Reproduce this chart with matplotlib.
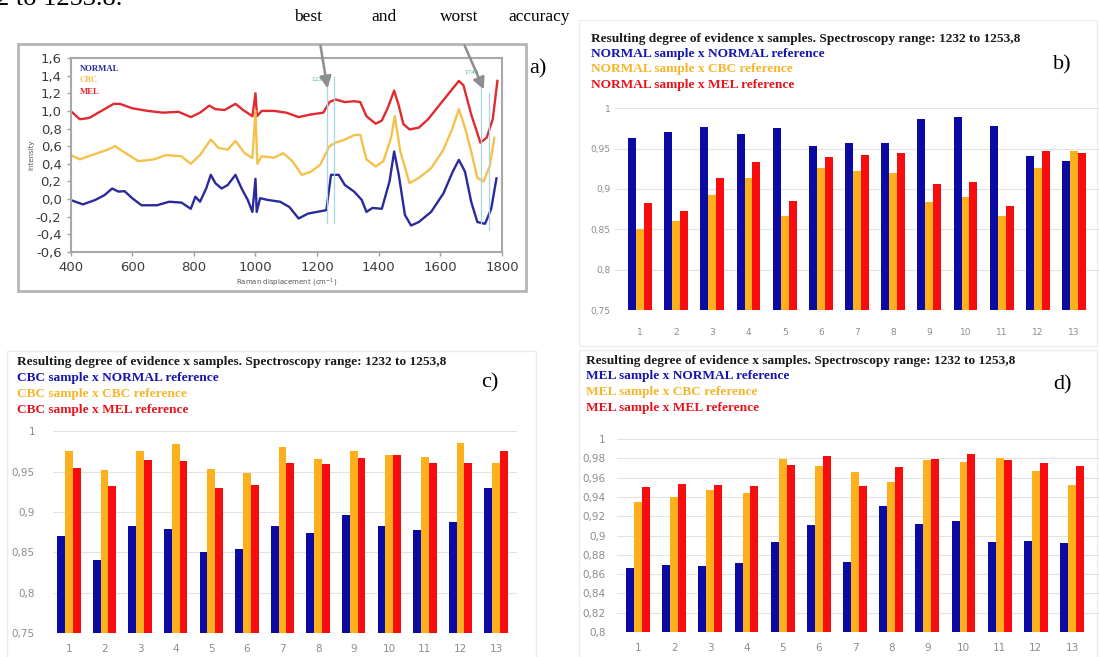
import numpy as np
import matplotlib.pyplot as plt
from matplotlib.patches import Rectangle, FancyArrowPatch

W, H = 1099, 657

# Raman spectra, offset per class
normal_wn = [400, 440, 480, 510, 535, 555, 575, 600, 630, 680, 720, 760, 790, 805, 820, 840,
             855, 870, 890, 910, 935, 955, 975, 990, 1000, 1004, 1015, 1040, 1080, 1110, 1140,
             1170, 1200, 1230, 1245, 1270, 1290, 1320, 1345, 1360, 1380, 1410, 1435, 1450,
             1465, 1485, 1505, 1530, 1570, 1610, 1640, 1660, 1680, 1700, 1720, 1745, 1765, 1782]
normal_int = [-0.01, -0.06, -0.01, 0.045, 0.12, 0.085, 0.09, 0.01, -0.07, -0.07, -0.03, -0.04,
              -0.11, 0.027, -0.03, 0.12, 0.275, 0.18, 0.12, 0.16, 0.275, 0.12, -0.01, -0.145,
              0.23, -0.145, 0.01, -0.01, -0.03, -0.09, -0.22, -0.165, -0.145, -0.125, 0.275,
              0.275, 0.16, 0.085, -0.01, -0.145, -0.10, -0.11, 0.20, 0.54, 0.275, -0.18, -0.30,
              -0.26, -0.145, 0.065, 0.31, 0.445, 0.31, -0.03, -0.26, -0.28, -0.11, 0.235]

cbc_wn = [400, 430, 470, 520, 545, 570, 620, 670, 710, 760, 790, 820, 855, 880, 910, 935,
          965, 990, 1000, 1006, 1020, 1060, 1090, 1120, 1150, 1180, 1210, 1240, 1260, 1290,
          1320, 1340, 1360, 1390, 1415, 1440, 1452, 1470, 1500, 1530, 1570, 1610, 1640, 1660,
          1680, 1700, 1720, 1740, 1760, 1775]
cbc_int = [0.50, 0.45, 0.50, 0.56, 0.60, 0.54, 0.43, 0.45, 0.50, 0.485, 0.40, 0.50, 0.675,
           0.58, 0.56, 0.66, 0.52, 0.465, 1.0, 0.40, 0.485, 0.47, 0.52, 0.43, 0.275, 0.31,
           0.39, 0.60, 0.64, 0.675, 0.725, 0.73, 0.45, 0.37, 0.43, 0.695, 0.94, 0.54, 0.18,
           0.24, 0.35, 0.56, 0.81, 1.02, 0.81, 0.54, 0.24, 0.20, 0.37, 0.695]

mel_wn = [400, 430, 460, 500, 540, 560, 600, 650, 700, 750, 790, 820, 850, 870, 900, 935,
          960, 990, 1000, 1005, 1020, 1060, 1100, 1140, 1180, 1220, 1240, 1260, 1290, 1320,
          1340, 1360, 1390, 1410, 1430, 1450, 1465, 1480, 1500, 1530, 1560, 1600, 1630, 1660,
          1675, 1700, 1730, 1750, 1770, 1785]
mel_int = [1.0, 0.905, 0.92, 1.0, 1.08, 1.08, 1.03, 1.0, 0.98, 0.99, 0.93, 0.98, 1.06, 1.02,
           1.01, 1.08, 1.01, 0.94, 1.2, 0.94, 1.0, 1.0, 0.98, 0.93, 0.96, 0.98, 1.1, 1.13, 1.10,
           1.11, 1.1, 0.94, 0.855, 0.89, 1.04, 1.23, 1.06, 0.85, 0.79, 0.81, 0.905, 1.08, 1.21,
           1.34, 1.29, 0.96, 0.64, 0.695, 0.905, 1.34]

# degree of evidence, samples 1..13
samples = np.arange(1, 14)
b_normal = [0.963, 0.970, 0.977, 0.968, 0.976, 0.953, 0.957, 0.957, 0.987, 0.989, 0.978, 0.941, 0.935]
b_cbc = [0.850, 0.860, 0.893, 0.913, 0.867, 0.926, 0.922, 0.920, 0.884, 0.890, 0.866, 0.926, 0.947]
b_mel = [0.883, 0.873, 0.913, 0.933, 0.885, 0.940, 0.942, 0.944, 0.906, 0.909, 0.879, 0.947, 0.945]

c_normal = [0.870, 0.840, 0.883, 0.879, 0.850, 0.854, 0.882, 0.874, 0.896, 0.883, 0.878, 0.887, 0.930]
c_cbc = [0.976, 0.952, 0.976, 0.984, 0.953, 0.948, 0.980, 0.965, 0.976, 0.970, 0.968, 0.985, 0.961]
c_mel = [0.954, 0.932, 0.964, 0.963, 0.930, 0.933, 0.961, 0.959, 0.967, 0.970, 0.961, 0.961, 0.976]

d_normal = [0.866, 0.869, 0.868, 0.872, 0.893, 0.911, 0.873, 0.931, 0.912, 0.915, 0.893, 0.894, 0.892]
d_cbc = [0.935, 0.940, 0.947, 0.944, 0.979, 0.972, 0.966, 0.956, 0.978, 0.976, 0.980, 0.967, 0.952]
d_mel = [0.950, 0.953, 0.952, 0.951, 0.973, 0.982, 0.951, 0.971, 0.979, 0.985, 0.978, 0.975, 0.972]

BLUE, ORANGE, RED = '#0b0ba4', '#fdb01c', '#f70d0d'
SERIF = 'Liberation Serif'


def fx(px):
    return px / W


def fy(py):
    return 1 - py / H


def px_axes(fig, left, top, right, bottom):
    return fig.add_axes([fx(left), fy(bottom), (right - left) / W, (bottom - top) / H])


def comma(v, fmt):
    return (fmt % v).replace('.', ',')


fig = plt.figure(figsize=(W / 100, H / 100), dpi=100)

# caption line above (only its lower part is on the sheet) and header words
fig.text(fx(-4), fy(5), '2 to 1253.8.', family=SERIF, fontsize=19, ha='left', va='baseline')
for word, xc in [('best', 308), ('and', 384), ('worst', 459), ('accuracy', 539)]:
    fig.text(fx(xc), fy(17), word, family=SERIF, fontsize=12.5, ha='center', va='center')

# ---- a) spectra ----
fig.patches.append(Rectangle((fx(18), fy(291)), (526 - 18) / W, (291 - 44) / H,
                             transform=fig.transFigure, fill=False, ec='#b5b5b5', lw=2))
axa = px_axes(fig, 70.6, 58, 502, 252)
axa.plot(mel_wn, mel_int, color='#e02a30', lw=1.7)
axa.plot(cbc_wn, cbc_int, color='#f4c24c', lw=1.7)
axa.plot(normal_wn, normal_int, color='#2a2a9c', lw=1.7)
for xv, y0, y1 in [(1232, -0.27, 1.39), (1253.8, -0.27, 1.39), (1731, -0.27, 1.35), (1757, -0.35, 1.2)]:
    axa.plot([xv, xv], [y0, y1], color='#a6d6e2', lw=0.9)
axa.text(1226, 1.36, '1232', color='#3cb59a', fontsize=5, family=SERIF, ha='right', va='center')
axa.text(1725, 1.43, '1740', color='#3cb59a', fontsize=5, family=SERIF, ha='right', va='center')
for name, col, yv in [('NORMAL', '#2a2a9c', 1.48), ('CBC', '#f4c24c', 1.35), ('MEL', '#e02a30', 1.22)]:
    axa.text(430, yv, name, color=col, fontsize=6.2, family=SERIF, weight='bold', va='center')
axa.set_xlim(400, 1800)
axa.set_ylim(-0.6, 1.6)
axa.set_xticks(range(400, 1801, 200))
yt = np.round(np.arange(-0.6, 1.61, 0.2), 1)
axa.set_yticks(yt)
axa.set_yticklabels([comma(v, '%.1f') for v in yt])
axa.tick_params(labelsize=9.5, labelcolor='#3c3c3c', color='#a0a0a0', length=3, width=1)
for sp in axa.spines.values():
    sp.set_color('#a8a8a8')
    sp.set_linewidth(1.5)
axa.set_xlabel('Raman displacement (cm$^{-1}$)', fontsize=5, color='#555555', labelpad=2)
axa.set_ylabel('Intensity', fontsize=5, color='#555555', labelpad=1)
fig.text(fx(538), fy(69), 'a)', family=SERIF, fontsize=16, ha='center', va='center')

# ---- arrows ----
for (x0, y0), (x1, y1) in [((320, 43), (328, 91)), ((463.5, 43), (485, 92))]:
    fig.patches.append(FancyArrowPatch((fx(x0), fy(y0)), (fx(x1), fy(y1)), transform=fig.transFigure,
                                       arrowstyle='-|>,head_length=7,head_width=3.5', color='#8e8e8e',
                                       lw=1.8, mutation_scale=1))


def bar_panel(left, top, right, bottom, first_px, last_px, ylo, yhi, ystep, series, xpad, ypad, lsize):
    ax = px_axes(fig, left, top, right, bottom)
    step = (last_px - first_px) / 12
    w = 0.22
    for k, (vals, col) in enumerate(series):
        ax.bar(samples + (k - 1) * w, vals, w, color=col, zorder=2)
    ax.set_xlim(1 - (first_px - left) / step, 13 + (right - last_px) / step)
    ax.set_ylim(ylo, yhi + 0.004 * (yhi - ylo) / 0.25)
    ticks = np.round(np.arange(ylo, yhi + 1e-9, ystep), 2)
    ax.set_yticks(ticks)
    ax.set_yticklabels([comma(v, '%g') for v in ticks])
    ax.set_xticks(samples)
    ax.grid(axis='y', color='#e3e3e3', lw=0.8, zorder=0)
    ax.tick_params(length=0, labelsize=lsize, labelcolor='#8c8c8c')
    ax.tick_params(axis='x', pad=xpad)
    ax.tick_params(axis='y', pad=ypad)
    for sp in ax.spines.values():
        sp.set_visible(False)
    return ax


def panel_text(x, ys, title, lines):
    fig.text(fx(x), fy(ys[0]), title, family=SERIF, weight='bold', fontsize=9.6, color='#1a1a1a',
             ha='left', va='center')
    for (txt, col), yv in zip(lines, ys[1:]):
        fig.text(fx(x), fy(yv), txt, family=SERIF, weight='bold', fontsize=9.6, color=col,
                 ha='left', va='center')


TITLE = 'Resulting degree of evidence x samples. Spectroscopy range: 1232 to 1253,8'

# ---- b) ----
fig.patches.append(Rectangle((fx(579), fy(346)), (1097 - 579) / W, (346 - 20) / H,
                             transform=fig.transFigure, fill=False, ec='#ececec', lw=1))
bar_panel(615, 105, 1099, 310, 640, 1074, 0.75, 1.0, 0.05,
          [(b_normal, BLUE), (b_cbc, ORANGE), (b_mel, RED)], 13, 3, 6.5)
panel_text(591, [39, 54, 69, 85], TITLE,
           [('NORMAL sample x NORMAL reference', '#1515b0'),
            ('NORMAL sample x CBC reference', '#f6b52a'),
            ('NORMAL sample x MEL reference', '#e8141c')])
fig.text(fx(1062), fy(65), 'b)', family=SERIF, fontsize=16, ha='center', va='center')

# ---- c) ----
fig.patches.append(Rectangle((fx(7), fy(660)), (536 - 7) / W, (660 - 351) / H,
                             transform=fig.transFigure, fill=False, ec='#ececec', lw=1))
bar_panel(53, 428, 517, 633, 69, 496, 0.75, 1.0, 0.05,
          [(c_normal, BLUE), (c_cbc, ORANGE), (c_mel, RED)], 8, 13, 7.5)
panel_text(17, [362, 378, 394, 410], TITLE,
           [('CBC sample x NORMAL reference', '#1515b0'),
            ('CBC sample x CBC reference', '#f6b52a'),
            ('CBC sample x MEL reference', '#e8141c')])
fig.text(fx(490), fy(383), 'c)', family=SERIF, fontsize=16, ha='center', va='center')

# ---- d) ----
fig.patches.append(Rectangle((fx(579), fy(660)), (1097 - 579) / W, (660 - 350) / H,
                             transform=fig.transFigure, fill=False, ec='#ececec', lw=1))
bar_panel(617, 436, 1099, 632, 638, 1072, 0.8, 1.0, 0.02,
          [(d_normal, BLUE), (d_cbc, ORANGE), (d_mel, RED)], 8, 8, 7.5)
panel_text(586, [361, 376, 392, 408], TITLE,
           [('MEL sample x NORMAL reference', '#1515b0'),
            ('MEL sample x CBC reference', '#f6b52a'),
            ('MEL sample x MEL reference', '#e8141c')])
fig.text(fx(1062), fy(385), 'd)', family=SERIF, fontsize=16, ha='center', va='center')

fig.savefig('out.png', dpi=100)
